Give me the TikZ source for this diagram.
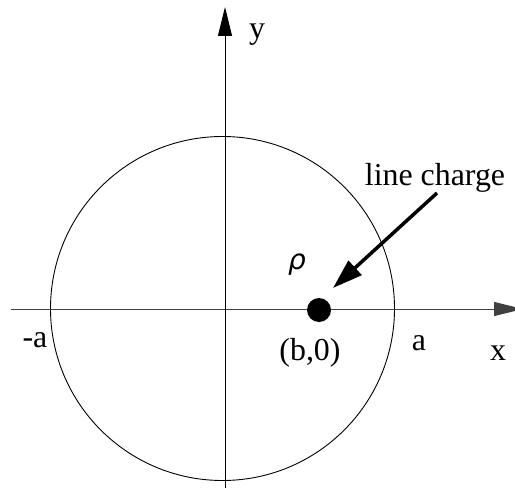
\documentclass[tikz,border=0pt]{standalone}
\usepackage{fontspec}
\setmainfont{Liberation Serif}
\newfontfamily\rhofont{DejaVu Sans}
\usetikzlibrary{arrows.meta}
\begin{document}
\begin{tikzpicture}[x=1bp,y=-1bp,
  axis/.style={line width=0.9bp, -{Triangle[length=29bp,width=14bp]}},
  lbl/.style={font=\fontsize{32}{36}\selectfont, inner sep=0pt},
  pointer/.style={line width=3.5bp, -{Triangle[length=30bp,width=19bp]}}]
\useasboundingbox (0,0) rectangle (515,488);
\clip (0,0) rectangle (515,488);
\coordinate (o) at (222.5,308.5);
\draw[line width=0.9bp] (o) circle[radius=172];
\coordinate (xl) at (11,309);
\coordinate (xr) at (523,309);
\coordinate (yb) at (225,490);
\coordinate (yt) at (225,7);
\draw[axis, draw=black!75] (xl) -- (xr);
\draw[axis] (yb) -- (yt);
\node[circle, fill=black, inner sep=0pt, minimum size=24bp] (dot) at (319,310) {};
\node[lbl] (lc) at (435,178) {line charge};
\coordinate (ps) at (437,193);
\coordinate (pt) at (333,288);
\draw[pointer] (ps) -- (pt);
\node[inner sep=0pt, font=\rhofont\itshape\fontsize{28}{32}\selectfont] (rho) at (297,265) {ρ};
\node[lbl] (b0) at (310,353) {(b,0)};
\node[lbl] (a) at (419,343) {a};
\node[lbl] (x) at (498,353) {x};
\node[lbl] (ma) at (35,340) {-a};
\node[lbl] (y) at (257,35) {y};
\end{tikzpicture}
\end{document}
